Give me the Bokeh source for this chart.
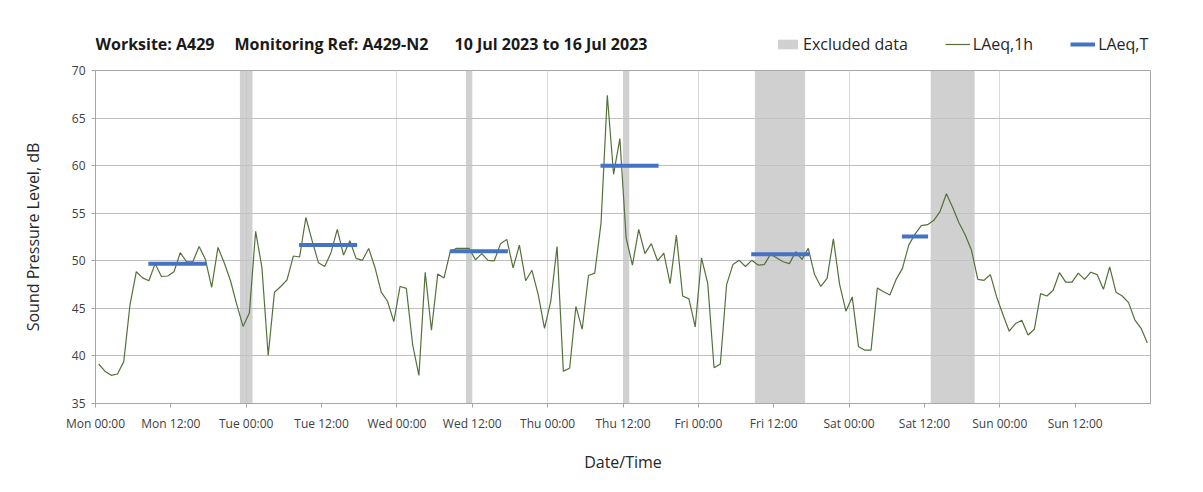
import pandas as pd
from bokeh.plotting import figure
from bokeh.layouts import column
from bokeh.models import (FixedTicker, DatetimeTickFormatter, Range1d, Label,
                          Legend, LegendItem, ColumnDataSource)
from bokeh.embed import file_html
from bokeh.resources import INLINE

# ---------------- data ----------------
laeq_1h = [
    39.15, 38.4, 37.96, 38.1, 39.4, 45.4, 48.85, 48.2, 47.9, 49.7, 48.35, 48.4,
    48.85, 50.85, 49.9, 49.9, 51.5, 50.15, 47.2, 51.4, 49.8, 47.9, 45.4, 43.1,
    44.5, 53.1, 49.3, 40.05, 46.7, 47.3, 48.0, 50.5, 50.4, 54.55, 52.1, 49.8,
    49.4, 50.85, 53.3, 50.6, 52.1, 50.25, 50.05, 51.3, 49.3, 46.7, 45.75, 43.6,
    47.3, 47.1, 41.2, 37.95, 48.8, 42.7, 48.6, 48.2, 51.0, 51.3, 51.3, 51.3,
    50.1, 50.75, 50.05, 50.0, 51.8, 52.25, 49.25, 51.65, 47.9, 49.0, 46.45, 42.9,
    45.75, 51.5, 38.4, 38.7, 45.2, 42.8, 48.45, 48.7, 53.95, 67.4, 59.1, 62.85,
    52.4, 49.55, 53.3, 50.75, 51.8, 50.0, 50.8, 47.6, 52.7, 46.3, 46.0, 43.05,
    50.3, 47.6, 38.75, 39.15, 47.5, 49.6, 50.05, 49.4, 50.05, 49.55, 49.6, 50.7,
    50.3, 49.9, 49.7, 50.95, 50.15, 51.3, 48.55, 47.3, 48.15, 52.3, 47.5, 44.7,
    46.2, 41.0, 40.6, 40.6, 47.15, 46.75, 46.4, 48.05, 49.2, 51.65, 52.8, 53.7,
    53.8, 54.25, 55.2, 57.05, 55.6, 54.0, 52.7, 51.1, 48.05, 47.95, 48.55, 46.2,
    44.35, 42.6, 43.4, 43.75, 42.2, 42.8, 46.55, 46.3, 46.9, 48.75, 47.75, 47.75,
    48.7, 48.05, 48.8, 48.55, 47.0, 49.35, 46.7, 46.3, 45.6, 43.8, 42.9, 41.35,
]
first_time = "2023-07-10 00:30"

excl_start = ["2023-07-10 23:00", "2023-07-12 11:00", "2023-07-13 12:00",
              "2023-07-14 09:00", "2023-07-15 13:00"]
excl_end = ["2023-07-11 01:00", "2023-07-12 12:00", "2023-07-13 13:00",
            "2023-07-14 17:00", "2023-07-15 20:00"]

laeqT_start = ["2023-07-10 08:25", "2023-07-11 08:25", "2023-07-12 08:25",
               "2023-07-13 08:25", "2023-07-14 08:25", "2023-07-15 08:25"]
laeqT_end = ["2023-07-10 17:40", "2023-07-11 17:40", "2023-07-12 17:40",
             "2023-07-13 17:40", "2023-07-14 17:40", "2023-07-15 12:35"]
laeqT = [49.7, 51.65, 51.0, 60.0, 50.7, 52.55]

y_ticks = [35, 40, 45, 50, 55, 60, 65, 70]
title_parts = ["Worksite: A429", "Monitoring Ref: A429-N2", "10 Jul 2023 to 16 Jul 2023"]
legend_labels = ["Excluded data", "LAeq,1h", "LAeq,T"]

# ---------------- styles ----------------
FONT = "Open Sans"
BAND = dict(fill_color="#c4c4c4", fill_alpha=0.8, line_color=None)
LINE = dict(line_color="#55703a", line_width=1.2)
SEG = dict(line_color="#4472c4", line_width=4)
NAN = float("nan")

# ---------------- header (title + legend) ----------------
# its frame is aligned by the column layout with the chart frame (x 95..1150)
HEAD_H = 60
header = figure(width=1203, height=HEAD_H, x_range=Range1d(0, 1), y_range=Range1d(0, 1),
                output_backend="svg", toolbar_location=None,
                x_axis_location=None, y_axis_location=None, min_border=0)
header.xgrid.visible = False
header.ygrid.visible = False
header.outline_line_color = None
header.border_fill_color = "white"

title_x = [0, 139, 359]
for tx, txt in zip(title_x, title_parts):
    header.add_layout(Label(x=tx, y=HEAD_H - 43, x_units="screen", y_units="screen",
                            text=txt, text_font=FONT, text_font_size="16px",
                            text_font_style="bold", text_color="#1a1a1a",
                            text_baseline="middle"))

# legend-only renderers (nothing drawn: NaN coordinates)
h_band = header.quad(left=[NAN], right=[NAN], bottom=[NAN], top=[NAN], **BAND)
h_line = header.line(x=[NAN], y=[NAN], **LINE)
h_seg = header.segment(x0=[NAN], y0=[NAN], x1=[NAN], y1=[NAN], **SEG)
legend = Legend(items=[LegendItem(label=lab, renderers=[r]) for lab, r in
                       zip(legend_labels, [h_band, h_line, h_seg])],
                orientation="horizontal", location=(680, HEAD_H - 55),
                padding=0, margin=0, spacing=37, label_standoff=3,
                glyph_width=25, glyph_height=12, label_height=20,
                label_text_font=FONT, label_text_font_size="16px",
                label_text_color="#262626",
                background_fill_alpha=0, border_line_color=None)
header.add_layout(legend, "center")

# ---------------- main chart ----------------
times = pd.date_range(pd.Timestamp(first_time), periods=len(laeq_1h), freq="h")
t0 = pd.Timestamp("2023-07-10 00:00")
t1 = pd.Timestamp("2023-07-17 00:00")
ms = lambda t: pd.Timestamp(t).value // 10**6
x_ticks = [ms(t0 + pd.Timedelta(hours=12 * k)) for k in range(14)]
day_ticks = [ms(t0 + pd.Timedelta(days=k)) for k in range(8)]

p = figure(width=1203, height=492 - HEAD_H, x_axis_type="datetime",
           x_range=Range1d(t0, t1), y_range=Range1d(35, 70),
           output_backend="svg", toolbar_location=None,
           min_border_left=95, min_border_right=53,
           min_border_top=70 - HEAD_H, min_border_bottom=89)

band_src = ColumnDataSource(dict(left=[pd.Timestamp(s) for s in excl_start],
                                 right=[pd.Timestamp(s) for s in excl_end],
                                 bottom=[35] * len(excl_start),
                                 top=[70] * len(excl_start)))
p.quad(left="left", right="right", bottom="bottom", top="top", source=band_src, **BAND)

line_src = ColumnDataSource(dict(t=times, v=laeq_1h))
p.line("t", "v", source=line_src, **LINE)

seg_src = ColumnDataSource(dict(x0=[pd.Timestamp(s) for s in laeqT_start],
                                x1=[pd.Timestamp(s) for s in laeqT_end],
                                y=laeqT))
p.segment(x0="x0", y0="y", x1="x1", y1="y", source=seg_src, **SEG)

fmt = "%a %H:%M"
p.xaxis.formatter = DatetimeTickFormatter(
    microseconds=fmt, milliseconds=fmt, seconds=fmt, minsec=fmt, minutes=fmt,
    hourmin=fmt, hours=fmt, days=fmt, months=fmt, years=fmt)
p.xaxis.ticker = FixedTicker(ticks=x_ticks)
p.yaxis.ticker = FixedTicker(ticks=y_ticks)
p.xgrid.ticker = FixedTicker(ticks=day_ticks)

for ax in (p.xaxis, p.yaxis):
    ax.axis_line_color = "#a6a6a6"
    ax.major_tick_line_color = "#a6a6a6"
    ax.major_tick_in = 0
    ax.major_tick_out = 4
    ax.minor_tick_line_color = None
    ax.major_label_text_font = FONT
    ax.major_label_text_font_size = "12px"
    ax.major_label_text_color = "#404040"
    ax.axis_label_text_font = FONT
    ax.axis_label_text_font_size = "16px"
    ax.axis_label_text_font_style = "normal"
    ax.axis_label_text_color = "#262626"

p.xaxis.axis_label = "Date/Time"
p.yaxis.axis_label = "Sound Pressure Level, dB"
p.xaxis.major_label_standoff = 7
p.xaxis.axis_label_standoff = 16
p.yaxis.major_label_standoff = 6
p.yaxis.axis_label_standoff = 25

p.xgrid.grid_line_color = "#d9d9d9"
p.ygrid.grid_line_color = "#bfbfbf"
p.outline_line_color = "#a6a6a6"
p.background_fill_color = "white"
p.border_fill_color = "white"

layout = column(header, p, spacing=0)
open("out.html", "w").write(file_html(layout, INLINE))
